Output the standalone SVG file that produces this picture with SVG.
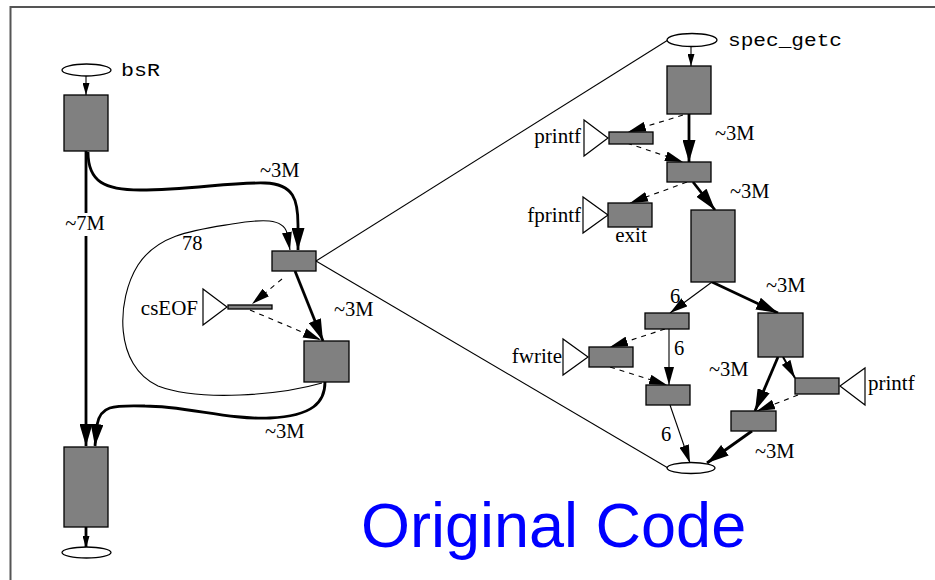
<svg xmlns="http://www.w3.org/2000/svg" width="935" height="580" viewBox="0 0 935 580">
<style>
.box{fill:#808080;stroke:#000;stroke-width:1.3}
.ell{fill:#fff;stroke:#000;stroke-width:1.3}
.tri{fill:#fff;stroke:#000;stroke-width:1.2}
.thick{fill:none;stroke:#000;stroke-width:2.8}
.med{fill:none;stroke:#000;stroke-width:2}
.thin{fill:none;stroke:#000;stroke-width:1.1}
.dash{fill:none;stroke:#000;stroke-width:1.1;stroke-dasharray:5,5}
.lbl{font-family:"Liberation Serif","Times New Roman",serif;font-size:20.5px;fill:#000}
.fn{font-family:"Liberation Serif","Times New Roman",serif;font-size:21px;fill:#000}
.mono{font-family:"Liberation Mono","Courier New",monospace;font-size:19px;fill:#000}
.title{font-family:"Liberation Sans",Arial,sans-serif;font-size:63px;fill:#0000ff}
</style>
<defs>
<marker id="big" markerUnits="userSpaceOnUse" markerWidth="22" markerHeight="13" refX="22" refY="6.5" orient="auto"><path d="M0,0 L22,6.5 L0,13 z" fill="#000"/></marker>
<marker id="mid" markerUnits="userSpaceOnUse" markerWidth="18" markerHeight="10" refX="18" refY="5" orient="auto"><path d="M0,0 L18,5 L0,10 z" fill="#000"/></marker>
<marker id="sm" markerUnits="userSpaceOnUse" markerWidth="12" markerHeight="7" refX="12" refY="3.5" orient="auto"><path d="M0,0 L12,3.5 L0,7 z" fill="#000"/></marker>
</defs>
<rect width="935" height="580" fill="#fff"/>
<path d="M10.5,580 V7 H935" fill="none" stroke="#555" stroke-width="2"/>

<g id="connectors">
  <!-- left graph -->
  <line class="thin" x1="86" y1="76" x2="86" y2="95" marker-end="url(#sm)"/>
  <line class="thick" x1="86" y1="151" x2="86" y2="446" marker-end="url(#big)"/>
  <path class="thick" d="M88,152 C88,182 105,190 140,190 C190,190 230,182 265,183 C294,184 298,200 298,225 L298,250" marker-end="url(#big)"/>
  <path class="thin" d="M322,383 C280,395 200,402 158,386 C114,366 116,300 138,265 C158,234 195,230 232,224 C262,219 283,218 287,233 L290,250" marker-end="url(#mid)"/>
  <line class="thick" x1="295" y1="271" x2="323" y2="341" marker-end="url(#big)"/>
  <line class="dash" x1="282" y1="279" x2="252" y2="304" marker-end="url(#mid)"/>
  <line class="dash" x1="250" y1="310" x2="321" y2="340" marker-end="url(#mid)"/>
  <path class="thick" d="M325,382 C325,402 313,416 270,418 C230,420 185,406 145,406 C112,405 100,406 97,425 L95,446" marker-end="url(#big)"/>
  <line class="thick" x1="86" y1="527" x2="86" y2="548" marker-end="url(#sm)"/>
  <!-- zoom lines -->
  <line class="thin" x1="316" y1="261" x2="668" y2="40"/>
  <line class="thin" x1="316" y1="261" x2="668" y2="468"/>
  <!-- right graph -->
  <line class="thin" x1="691" y1="47" x2="691" y2="66" marker-end="url(#sm)"/>
  <line class="thick" x1="689" y1="114" x2="689" y2="162" marker-end="url(#big)"/>
  <line class="dash" x1="683" y1="115" x2="628" y2="132" marker-end="url(#mid)"/>
  <line class="dash" x1="627" y1="143" x2="683" y2="162" marker-end="url(#mid)"/>
  <line class="thick" x1="693" y1="182" x2="715" y2="210" marker-end="url(#big)"/>
  <line class="dash" x1="687" y1="182" x2="630" y2="203" marker-end="url(#mid)"/>
  <line class="thin" x1="712" y1="282" x2="670" y2="313" marker-end="url(#mid)"/>
  <line class="thick" x1="712" y1="282" x2="778" y2="313" marker-end="url(#big)"/>
  <line class="dash" x1="665" y1="329" x2="610" y2="347" marker-end="url(#mid)"/>
  <line class="dash" x1="610" y1="367" x2="667" y2="385" marker-end="url(#mid)"/>
  <line class="thin" x1="669" y1="329" x2="669" y2="385" marker-end="url(#mid)"/>
  <line class="thin" x1="670" y1="405" x2="690" y2="463" marker-end="url(#mid)"/>
  <line class="thick" x1="778" y1="357" x2="755" y2="411" marker-end="url(#big)"/>
  <line class="med" x1="783" y1="357" x2="795" y2="378" marker-end="url(#mid)"/>
  <line class="dash" x1="798" y1="395" x2="757" y2="411" marker-end="url(#mid)"/>
  <line class="thick" x1="752" y1="431" x2="707" y2="463" marker-end="url(#big)"/>
  <!-- edge labels -->
  <rect x="63" y="213" width="46" height="23" fill="#fff"/>
  <text class="lbl" x="85" y="230" text-anchor="middle">~7M</text>
  <text class="lbl" x="260" y="177">~3M</text>
  <text class="lbl" x="182" y="250">78</text>
  <text class="lbl" x="334" y="316">~3M</text>
  <text class="lbl" x="265" y="438">~3M</text>
  <text class="lbl" x="715" y="140">~3M</text>
  <text class="lbl" x="730" y="198">~3M</text>
  <text class="lbl" x="670" y="303">6</text>
  <text class="lbl" x="766" y="292">~3M</text>
  <text class="lbl" x="674" y="355">6</text>
  <text class="lbl" x="709" y="376">~3M</text>
  <text class="lbl" x="661" y="441">6</text>
  <text class="lbl" x="755" y="458">~3M</text>
</g>

<g id="bsR_entry"><ellipse class="ell" cx="86.5" cy="70" rx="24.5" ry="6"/><text class="mono" x="121" y="76" textLength="39" lengthAdjust="spacingAndGlyphs">bsR</text></g>
<g id="bsR_b1"><rect class="box" x="64" y="95" width="44" height="56"/></g>
<g id="bsR_b2"><rect class="box" x="272" y="251" width="44" height="20"/></g>
<g id="csEOF"><polygon class="tri" points="203,289 203,325 227,307"/><rect class="box" x="228" y="305" width="44" height="4"/><text class="fn" x="198" y="315" text-anchor="end">csEOF</text></g>
<g id="bsR_b3"><rect class="box" x="304" y="341" width="45" height="41"/></g>
<g id="bsR_b4"><rect class="box" x="64" y="447" width="44" height="80"/></g>
<g id="bsR_exit"><ellipse class="ell" cx="86.5" cy="552.5" rx="24.5" ry="5.5"/></g>

<g id="spec_getc_entry"><ellipse class="ell" cx="692" cy="40" rx="25" ry="6.5"/><text class="mono" x="728" y="46" textLength="114" lengthAdjust="spacingAndGlyphs">spec_getc</text></g>
<g id="sg_r1"><rect class="box" x="667" y="66" width="44" height="48"/></g>
<g id="printf1"><polygon class="tri" points="584,120 584,156 608,138"/><rect class="box" x="609" y="132" width="44" height="12"/><text class="fn" x="581" y="143" text-anchor="end">printf</text></g>
<g id="sg_r2"><rect class="box" x="667" y="162" width="44" height="20"/></g>
<g id="fprintf"><polygon class="tri" points="583,197 583,233 608,215"/><rect class="box" x="608" y="203" width="44" height="24"/><text class="fn" x="581" y="222" text-anchor="end">fprintf</text><text class="fn" x="631" y="242" text-anchor="middle">exit</text></g>
<g id="sg_r3"><rect class="box" x="691" y="210" width="44" height="72"/></g>
<g id="sg_l1"><rect class="box" x="645" y="313" width="44" height="16"/></g>
<g id="fwrite"><polygon class="tri" points="563,339 563,375 588,357"/><rect class="box" x="589" y="347" width="44" height="20"/><text class="fn" x="562" y="363" text-anchor="end">fwrite</text></g>
<g id="sg_l2"><rect class="box" x="646" y="385" width="44" height="20"/></g>
<g id="sg_r4"><rect class="box" x="758" y="313" width="45" height="44"/></g>
<g id="printf2"><polygon class="tri" points="865,368 865,405 840,386"/><rect class="box" x="795" y="378" width="44" height="16"/><text class="fn" x="868" y="390">printf</text></g>
<g id="sg_r5"><rect class="box" x="731" y="411" width="45" height="20"/></g>
<g id="spec_getc_exit"><ellipse class="ell" cx="691" cy="468" rx="24" ry="5.5"/></g>

<text class="title" x="361" y="547">Original Code</text>
</svg>
